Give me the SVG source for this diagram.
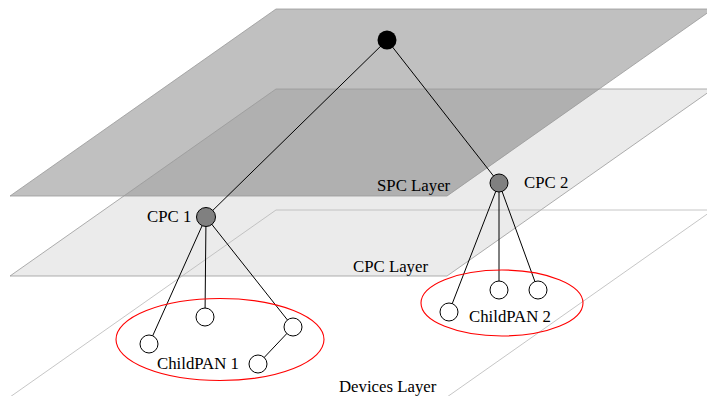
<svg xmlns="http://www.w3.org/2000/svg" width="707" height="396" viewBox="0 0 707 396">
  <style>
    .lbl { font-family: "Liberation Serif", "Times New Roman", serif; font-size: 16.8px; fill: #000; }
    .edge { fill: none; stroke: #999; stroke-width: 0.8; }
    .dev { fill: none; stroke: #b8b8b8; stroke-width: 0.8; }
    .link { stroke: #000; stroke-width: 1; fill: none; }
    .leaf { fill: #fff; stroke: #000; stroke-width: 1; }
    .cpc { fill: #808080; stroke: #000; stroke-width: 1; }
    .pan { fill: none; stroke: #f00; stroke-width: 1.1; }
  </style>
  <rect width="707" height="396" fill="#fff"/>

  <!-- layer planes -->
  <g id="layers">
    <polygon id="cpc-plane" points="276,89 713,89 447,276 10,276" fill="#ebebeb"/>
    <polygon id="spc-plane" points="276,9 713,9 447,196 10,196" fill="#c0c0c0"/>
    <polygon id="overlap" points="276,89 599.2,89 447,196 123.8,196" fill="#b0b0b0"/>
    <polygon class="edge" points="276,89 713,89 447,276 10,276" stroke="#aaa"/>
    <polygon class="edge" points="276,9 713,9 447,196 10,196"/>
    <g id="devices-plane">
      <line class="dev" x1="276" y1="210" x2="713" y2="210" stroke="#d0d0d0" stroke-width="1.4"/>
      <line class="dev" x1="276" y1="210" x2="10" y2="397"/>
      <line class="dev" x1="713" y1="210" x2="447" y2="397"/>
    </g>
  </g>

  <!-- connectors -->
  <g id="connectors">
    <line class="link" x1="387" y1="40" x2="206" y2="217"/>
    <line class="link" x1="387" y1="40" x2="499" y2="183"/>
    <line class="link" x1="206" y1="217" x2="149" y2="344"/>
    <line class="link" x1="206" y1="217" x2="205" y2="317"/>
    <line class="link" x1="206" y1="217" x2="293" y2="327"/>
    <line class="link" x1="293" y1="327" x2="258" y2="364"/>
    <line class="link" x1="499" y1="183" x2="449" y2="312"/>
    <line class="link" x1="499" y1="183" x2="499" y2="290"/>
    <line class="link" x1="499" y1="183" x2="538" y2="290"/>
  </g>

  <!-- sub-PAN boundaries -->
  <g id="childpan1">
    <ellipse class="pan" cx="220" cy="339.5" rx="104" ry="41"/>
    <text class="lbl" x="157" y="369">ChildPAN 1</text>
  </g>
  <g id="childpan2">
    <ellipse class="pan" cx="502" cy="303" rx="81" ry="33"/>
    <text class="lbl" x="469" y="322">ChildPAN 2</text>
  </g>

  <!-- nodes -->
  <g id="spc">
    <circle cx="387" cy="40" r="9.5" fill="#000"/>
  </g>
  <g id="cpc1">
    <circle class="cpc" cx="206" cy="217" r="9.5"/>
    <text class="lbl" x="147" y="222">CPC 1</text>
  </g>
  <g id="cpc2">
    <circle class="cpc" cx="499" cy="183" r="9"/>
    <text class="lbl" x="524" y="188">CPC 2</text>
  </g>
  <g id="dev1a"><circle class="leaf" cx="149" cy="344" r="9"/></g>
  <g id="dev1b"><circle class="leaf" cx="205" cy="317" r="9"/></g>
  <g id="dev1c"><circle class="leaf" cx="293" cy="327" r="9"/></g>
  <g id="dev1d"><circle class="leaf" cx="258" cy="364" r="9"/></g>
  <g id="dev2a"><circle class="leaf" cx="449" cy="312" r="9"/></g>
  <g id="dev2b"><circle class="leaf" cx="499" cy="290" r="9"/></g>
  <g id="dev2c"><circle class="leaf" cx="538" cy="290" r="9"/></g>

  <!-- layer captions -->
  <g id="captions">
    <text class="lbl" x="377" y="191">SPC Layer</text>
    <text class="lbl" x="353" y="272">CPC Layer</text>
    <text class="lbl" x="339" y="392">Devices Layer</text>
  </g>
</svg>
